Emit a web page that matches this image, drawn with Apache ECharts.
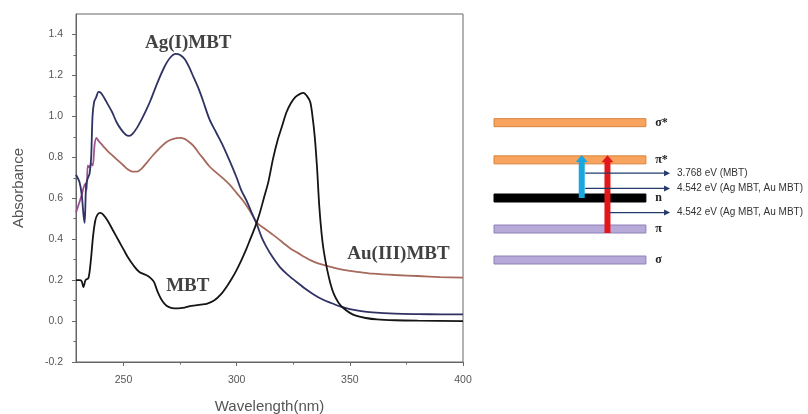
<!DOCTYPE html>
<html>
<head>
<meta charset="utf-8">
<title>MBT UV-Vis</title>
<script src="https://cdn.jsdelivr.net/npm/echarts@6/dist/echarts.min.js"></script>
<style>
    html, body { margin: 0; padding: 0; background: #fff; }
    #chart { width: 808px; height: 414px; }
</style>
</head>
<body>
<div id="chart"></div>
<script>
// spectra (wavelength nm / absorbance)
var mbtWl  = [229, 230.5, 231.5, 232.3, 233.2, 234.5, 235.5, 236.5, 237.5, 238.5, 239.7, 241, 243, 245.5, 248, 250, 252, 254.5, 257, 260, 262, 263.5, 265, 267, 269, 271, 274, 277, 280, 284, 287, 290, 293, 296, 298, 300, 302, 304, 306, 308, 310, 312, 314, 316, 318, 320, 322, 324, 326, 328, 329.5, 331, 332.5, 333.5, 334.5, 335.5, 336.5, 337.5, 338.5, 340, 341.5, 343, 345, 347, 350, 353, 357, 362, 370, 380, 400];
var mbtAbs = [0.20, 0.20, 0.195, 0.165, 0.20, 0.21, 0.29, 0.41, 0.49, 0.52, 0.528, 0.52, 0.49, 0.44, 0.39, 0.35, 0.31, 0.27, 0.24, 0.225, 0.21, 0.19, 0.145, 0.10, 0.075, 0.065, 0.062, 0.066, 0.074, 0.08, 0.085, 0.10, 0.13, 0.175, 0.21, 0.25, 0.295, 0.345, 0.40, 0.455, 0.52, 0.60, 0.68, 0.79, 0.88, 0.95, 1.02, 1.065, 1.095, 1.11, 1.115, 1.10, 1.07, 1.00, 0.90, 0.75, 0.56, 0.43, 0.34, 0.25, 0.18, 0.13, 0.09, 0.065, 0.04, 0.025, 0.015, 0.008, 0.004, 0.002, 0.0];

var agWl  = [229, 230.5, 231.5, 232.3, 232.8, 233.5, 234.3, 235, 235.7, 236.3, 237, 237.8, 239, 240, 241.5, 243, 245, 247, 249, 251, 252.5, 254, 256, 258, 260, 262, 265, 268, 270.5, 273, 275, 277, 279, 281, 283, 285, 288, 291, 294, 297, 300, 302, 304.5, 307, 309, 311, 313, 316, 319, 322, 326, 330, 334, 338, 342, 346, 350, 355, 360, 370, 380, 390, 400];
var agAbs = [0.715, 0.68, 0.62, 0.52, 0.48, 0.67, 0.70, 0.72, 0.80, 1.00, 1.07, 1.09, 1.12, 1.115, 1.09, 1.06, 1.02, 0.97, 0.935, 0.91, 0.905, 0.915, 0.945, 0.985, 1.03, 1.08, 1.165, 1.24, 1.285, 1.305, 1.30, 1.28, 1.24, 1.19, 1.14, 1.08, 0.985, 0.92, 0.855, 0.78, 0.70, 0.64, 0.585, 0.52, 0.47, 0.41, 0.365, 0.31, 0.265, 0.232, 0.195, 0.16, 0.13, 0.105, 0.087, 0.07, 0.058, 0.048, 0.042, 0.036, 0.034, 0.033, 0.033];

var auWl  = [229, 230.5, 231.5, 233, 233.7, 234.2, 235, 235.7, 236.4, 237.2, 238, 239, 241, 243, 245.5, 248, 250, 252, 254, 256, 258, 260, 263, 266, 269, 272, 275, 277, 279, 281, 283, 285.5, 288, 291, 294, 297, 300, 303, 306, 309, 312, 315, 318, 321, 324, 327, 330, 333, 336, 340, 345, 350, 355, 360, 370, 380, 390, 400];
var auAbs = [0.53, 0.58, 0.615, 0.67, 0.64, 0.76, 0.75, 0.77, 0.76, 0.86, 0.895, 0.88, 0.855, 0.83, 0.805, 0.78, 0.76, 0.74, 0.73, 0.73, 0.745, 0.77, 0.81, 0.845, 0.875, 0.89, 0.895, 0.89, 0.875, 0.855, 0.825, 0.79, 0.755, 0.725, 0.697, 0.665, 0.625, 0.585, 0.535, 0.48, 0.455, 0.43, 0.405, 0.378, 0.352, 0.333, 0.313, 0.295, 0.282, 0.27, 0.255, 0.245, 0.238, 0.232, 0.225, 0.22, 0.215, 0.212];

var xTicks = [250, 300, 350, 400];
var xMinorTicks = [275, 325, 375];
var yTicks = [-0.2, 0.0, 0.2, 0.4, 0.6, 0.8, 1.0, 1.2, 1.4];
var yMinorTicks = [-0.1, 0.1, 0.3, 0.5, 0.7, 0.9, 1.1, 1.3];

var annoText = ['Ag(I)MBT', 'MBT', 'Au(III)MBT'];
var annoWl = [278.6, 278.4, 371.5];
var annoAbs = [1.358, 0.170, 0.326];

// energy level diagram (arbitrary units)
var levelNames = ['σ', 'π', 'n', 'π*', 'σ*'];
var levelEnergy = [0, 1, 2, 3.23, 4.43];
var levelSpan = [0, 4.9];
var levelLabelX = 5.2;

var arrowX = [2.83, 3.66];
var arrowFrom = [2.0, 0.87];
var arrowTo = [3.39, 3.38];

var gapText = ['3.768 eV (MBT)', '4.542 eV (Ag MBT, Au MBT)', '4.542 eV (Ag MBT, Au MBT)'];
var gapY = [2.8, 2.31, 1.53];
var gapFrom = [2.94, 2.94, 3.74];
var gapTo = 5.68;
var gapTextX = 5.9;

var levelFill = ['#b7a9d8', '#b7a9d8', '#000000', '#f8a45e', '#f8a45e'];
var levelStroke = ['#8d80b6', '#8d80b6', '#000000', '#d8843c', '#d8843c'];
var arrowColor = ['#1aa6e0', '#e3161c'];

var pairs = function (xs, ys) {
    return xs.map(function (x, i) { return [x, ys[i]]; });
};

var myChart = echarts.init(document.getElementById('chart'), null, {renderer: 'canvas'});

var axisGray = '#666';
var textGray = '#555';

option = {
    animation: false,
    backgroundColor: '#fff',
    grid: [
        {left: 76, right: 345, top: 14, bottom: 52, show: true, borderColor: axisGray, borderWidth: 1,
            backgroundColor: 'transparent', outerBoundsMode: 'none'},
        {left: 494, width: 310, top: 105, height: 186, outerBoundsMode: 'none'}
    ],
    xAxis: [
        {
            type: 'value', gridIndex: 0, min: 229, max: 400, position: 'bottom',
            name: 'Wavelength(nm)', nameLocation: 'middle', nameGap: 37,
            nameTextStyle: {fontFamily: 'Liberation Sans', fontSize: 15, color: textGray},
            axisLine: {onZero: false, lineStyle: {color: axisGray, width: 1}},
            axisTick: {customValues: xTicks, length: 4, lineStyle: {color: axisGray}},
            axisLabel: {customValues: xTicks, fontFamily: 'Liberation Sans', fontSize: 10.5, color: textGray, margin: 13},
            splitLine: {show: false}
        },
        {
            type: 'value', gridIndex: 0, min: 229, max: 400, position: 'bottom',
            axisLine: {show: false, onZero: false},
            axisTick: {customValues: xMinorTicks, length: 2.5, lineStyle: {color: axisGray}},
            axisLabel: {show: false},
            splitLine: {show: false}
        },
        {type: 'value', gridIndex: 1, min: 0, max: 10, show: false}
    ],
    yAxis: [
        {
            type: 'value', gridIndex: 0, min: -0.2, max: 1.5, position: 'left',
            name: 'Absorbance', nameLocation: 'middle', nameGap: 50, nameRotate: 90,
            nameTextStyle: {fontFamily: 'Liberation Sans', fontSize: 15, color: textGray},
            axisLine: {show: true, onZero: false, lineStyle: {color: axisGray, width: 1}},
            axisTick: {show: true, customValues: yTicks, length: 4, lineStyle: {color: axisGray}},
            axisLabel: {
                customValues: yTicks, fontFamily: 'Liberation Sans', fontSize: 10.5, color: textGray, margin: 13,
                formatter: function (v) { return v.toFixed(1); }
            },
            splitLine: {show: false}
        },
        {
            type: 'value', gridIndex: 0, min: -0.2, max: 1.5, position: 'left',
            axisLine: {show: false, onZero: false},
            axisTick: {show: true, customValues: yMinorTicks, length: 2.5, lineStyle: {color: axisGray}},
            axisLabel: {show: false},
            splitLine: {show: false}
        },
        {type: 'value', gridIndex: 1, min: -1, max: 5, show: false}
    ],
    series: [
        {
            name: 'MBT', type: 'line', xAxisIndex: 0, yAxisIndex: 0,
            data: pairs(mbtWl, mbtAbs), showSymbol: false, smooth: 0.3,
            lineStyle: {color: '#151515', width: 1.8}, z: 3
        },
        {
            name: 'Ag(I)MBT', type: 'line', xAxisIndex: 0, yAxisIndex: 0,
            data: pairs(agWl, agAbs), showSymbol: false, smooth: 0.3,
            lineStyle: {color: '#2f3262', width: 1.8}, z: 2
        },
        {
            name: 'Au(III)MBT', type: 'line', xAxisIndex: 0, yAxisIndex: 0,
            data: pairs(auWl, auAbs), showSymbol: false, smooth: 0.3,
            lineStyle: {
                width: 1.8,
                color: new echarts.graphic.LinearGradient(0, 0, 1, 0, [
                    {offset: 0, color: '#9a4a9e'},
                    {offset: 0.06, color: '#a0568a'},
                    {offset: 0.08, color: '#a6695b'},
                    {offset: 1, color: '#a6695b'}
                ])
            },
            z: 1
        },
        {
            // curve names
            type: 'scatter', xAxisIndex: 0, yAxisIndex: 0,
            data: annoText.map(function (t, i) { return {name: t, value: [annoWl[i], annoAbs[i]]}; }),
            symbolSize: 0, silent: true, z: 5,
            label: {
                show: true, position: 'inside', formatter: '{b}',
                fontFamily: 'Liberation Serif', fontWeight: 'bold', fontSize: 19, color: '#111'
            }
        },
        {
            // energy levels
            type: 'custom', xAxisIndex: 2, yAxisIndex: 2, z: 1,
            data: levelEnergy.map(function (e) { return [levelSpan[0], e, levelSpan[1]]; }),
            encode: {x: [0, 2], y: 1},
            renderItem: function (params, api) {
                var i = params.dataIndex;
                var a = api.coord([api.value(0), api.value(1)]);
                var b = api.coord([api.value(2), api.value(1)]);
                var t = api.coord([levelLabelX, api.value(1)]);
                return {
                    type: 'group',
                    children: [
                        {
                            type: 'rect',
                            shape: {x: a[0], y: a[1] - 4, width: b[0] - a[0], height: 8},
                            style: {fill: levelFill[i], stroke: levelStroke[i], lineWidth: 1}
                        },
                        {
                            type: 'text', x: t[0], y: t[1],
                            style: {
                                text: levelNames[i], fill: '#222', fontFamily: 'Liberation Serif',
                                fontWeight: 'bold', fontSize: 12, verticalAlign: 'middle', align: 'left'
                            }
                        }
                    ]
                };
            }
        },
        {
            // transitions
            type: 'custom', xAxisIndex: 2, yAxisIndex: 2, z: 2,
            data: arrowX.map(function (x, i) { return [x, arrowFrom[i], arrowTo[i]]; }),
            encode: {x: 0, y: [1, 2]},
            renderItem: function (params, api) {
                var i = params.dataIndex;
                var p0 = api.coord([api.value(0), api.value(1)]);
                var p1 = api.coord([api.value(0), api.value(2)]);
                return {
                    type: 'group',
                    children: [
                        {
                            type: 'rect',
                            shape: {x: p0[0] - 3, y: p1[1] + 6, width: 6, height: p0[1] - p1[1] - 6},
                            style: {fill: arrowColor[i]}
                        },
                        {
                            type: 'polygon',
                            shape: {points: [[p1[0] - 6, p1[1] + 7], [p1[0], p1[1]], [p1[0] + 6, p1[1] + 7]]},
                            style: {fill: arrowColor[i]}
                        }
                    ]
                };
            }
        },
        {
            // band gap pointers
            type: 'custom', xAxisIndex: 2, yAxisIndex: 2, z: 3,
            data: gapY.map(function (y, i) { return [gapFrom[i], y, gapTo]; }),
            encode: {x: [0, 2], y: 1},
            renderItem: function (params, api) {
                var i = params.dataIndex;
                var a = api.coord([api.value(0), api.value(1)]);
                var b = api.coord([api.value(2), api.value(1)]);
                var t = api.coord([gapTextX, api.value(1)]);
                return {
                    type: 'group',
                    children: [
                        {
                            type: 'line',
                            shape: {x1: a[0], y1: a[1], x2: b[0] - 5, y2: b[1]},
                            style: {stroke: '#233a6b', lineWidth: 1.2}
                        },
                        {
                            type: 'polygon',
                            shape: {points: [[b[0] - 6, b[1] - 3], [b[0], b[1]], [b[0] - 6, b[1] + 3]]},
                            style: {fill: '#233a6b'}
                        },
                        {
                            type: 'text', x: t[0], y: t[1],
                            style: {
                                text: gapText[i], fill: '#333', fontFamily: 'Liberation Sans',
                                fontSize: 10, verticalAlign: 'middle', align: 'left'
                            }
                        }
                    ]
                };
            }
        }
    ]
};
myChart.setOption(option);
</script>
</body>
</html>
